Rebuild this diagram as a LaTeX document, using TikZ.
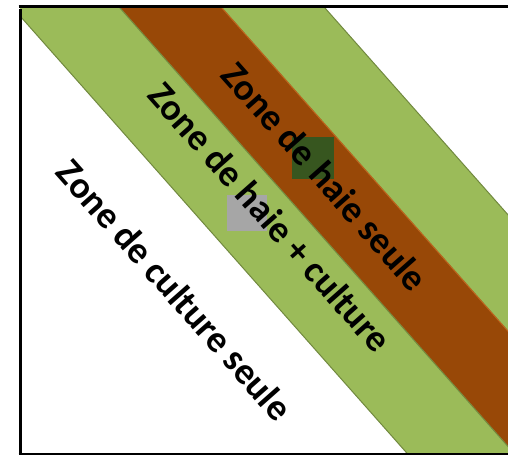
\documentclass[tikz,border=0pt]{standalone}
\usepackage{fontspec}
\setmainfont{Carlito}
\definecolor{bandgreen}{HTML}{9BBB59}
\definecolor{greenedge}{HTML}{71893F}
\definecolor{bandbrown}{HTML}{984807}
\definecolor{brownedge}{HTML}{C0661E}
\definecolor{darksq}{HTML}{37561F}
\definecolor{greysq}{HTML}{A6A6A6}
\tikzset{
  greenband/.style={fill=bandgreen, draw=greenedge, line width=1pt},
  brownband/.style={fill=bandbrown, draw=brownedge, line width=1pt},
  zonelabel/.style={font=\bfseries\fontsize{37.5}{40}\selectfont, rotate=-48.5, inner sep=0pt},
  framebar/.style={draw=black, line width=3pt},
  square/.style={inner sep=0pt, outer sep=0pt, draw=none}
}
\begin{document}
\begin{tikzpicture}[x=1pt,y=-1pt]
\useasboundingbox (0,0) rectangle (508,456);
\begin{scope}
\clip (20,6.5) rectangle (508,454);
% right green band
\draw[greenband] (214.9,0) -- (317.9,0) -- (725,460) -- (622,460) -- cycle;
% brown band
\draw[brownband] (112.9,0) -- (214.9,0) -- (622,460) -- (520,460) -- cycle;
% left green band
\draw[greenband] (5.9,0) -- (112.9,0) -- (520,460) -- (413,460) -- cycle;
\end{scope}
% squares
\node[square, fill=darksq, minimum width=42pt, minimum height=42pt] (dsq) at (313,158) {};
\node[square, fill=greysq, minimum width=40pt, minimum height=36pt] (gsq) at (247,213) {};
% labels
\node[zonelabel] (haie) at (325,176) {Zone de haie seule};
\node[zonelabel] (mixte) at (270,217) {Zone de haie + culture};
\node[zonelabel] (culture) at (175,290) {Zone de culture seule};
% frame
\coordinate (tl) at (20,6.5);
\coordinate (tr) at (508,6.5);
\coordinate (bl) at (20,454);
\coordinate (br) at (508,454);
\draw[framebar] ([yshift=-2pt]tl) -- ([yshift=1.5pt]bl);
\draw[framebar] ([xshift=-1.5pt]tl) -- (tr);
\draw[draw=black, line width=2pt] ([xshift=-1.5pt]bl) -- (br);
\end{tikzpicture}
\end{document}
